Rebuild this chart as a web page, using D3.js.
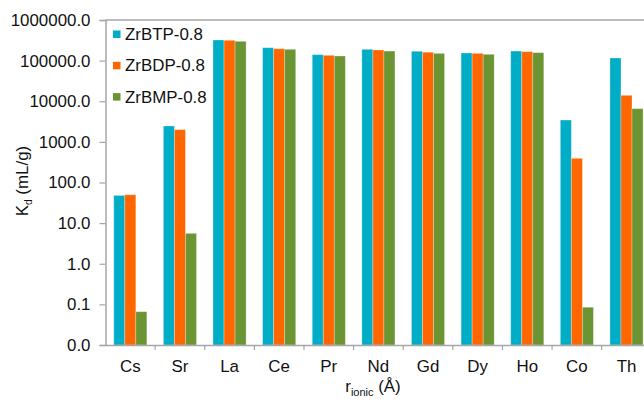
<!DOCTYPE html>
<html>
<head>
<meta charset="utf-8">
<script src="https://cdn.jsdelivr.net/npm/d3@7"></script>
<style>
  body { margin: 0; background: #fff; }
  svg { display: block; font-family: "Liberation Sans", Arial, sans-serif; }
</style>
</head>
<body>
<svg id="chart" width="644" height="402"></svg>
<script>
// Distribution coefficients (mL/g) per ion and sorbent
const ions = ["Cs", "Sr", "La", "Ce", "Pr", "Nd", "Gd", "Dy", "Ho", "Co", "Th"];
const seriesNames = ["ZrBTP-0.8", "ZrBDP-0.8", "ZrBMP-0.8"];
const zrBTP = [48, 2460, 322000, 208000, 140000, 190000, 170000, 154000, 172000, 3450, 116000];
const zrBDP = [50, 2000, 316000, 196000, 135000, 183000, 161000, 151000, 166000, 394, 14000];
const zrBMP = [0.066, 5.6, 299000, 190000, 130000, 172000, 151000, 143000, 157000, 0.085, 6560];
const yTicks = [0.01, 0.1, 1, 10, 100, 1000, 10000, 100000, 1000000];
const colors = ["#00ADC6", "#FF6600", "#6B9432"];

const seriesValues = [zrBTP, zrBDP, zrBMP];
const svg = d3.select("#chart");

const plotLeft = 105.5, plotRight = 651.3, plotTop = 20, plotBottom = 345;
const axisColor = "#A6A6A6";
const textColor = "#111";
const fontSize = 16.9;

const x = d3.scaleBand().domain(ions).range([plotLeft, plotRight])
  .paddingInner(1 / 3).paddingOuter(1 / 6);
const xs = d3.scaleBand().domain(seriesNames).range([0, x.bandwidth()]);
const y = d3.scaleLog().domain([0.01, 1000000]).range([plotBottom, plotTop]);

// Bars, grouped by ion
const rows = ions.map((ion, i) => ({ ion, vals: seriesNames.map((s, k) => ({ s, k, v: seriesValues[k][i] })) }));
svg.append("g").selectAll("g").data(rows).join("g")
  .attr("transform", d => `translate(${x(d.ion)},0)`)
  .selectAll("rect").data(d => d.vals).join("rect")
  .attr("x", d => xs(d.s))
  .attr("width", xs.bandwidth())
  .attr("y", d => y(d.v))
  .attr("height", d => y(0.01) - y(d.v))
  .attr("fill", d => colors[d.k])
  .attr("stroke", "#fff").attr("stroke-opacity", 0.35).attr("stroke-width", 0.8);

// Top gridline
svg.append("line")
  .attr("x1", plotLeft).attr("x2", 644).attr("y1", y(1000000)).attr("y2", y(1000000))
  .attr("stroke", axisColor).attr("stroke-width", 1.5);

// Y axis
const yAxis = svg.append("g").attr("transform", `translate(${plotLeft},0)`)
  .call(d3.axisLeft(y).tickValues(yTicks).tickFormat(d3.format(".1f")).tickSizeOuter(0).tickSize(6).tickPadding(9));
yAxis.select(".domain").attr("stroke", axisColor).attr("stroke-width", 1.5);
yAxis.selectAll(".tick line").attr("stroke", axisColor).attr("stroke-width", 1.2);
yAxis.selectAll("text").attr("font-size", fontSize).attr("fill", textColor)
  .attr("font-family", "Liberation Sans, Arial, sans-serif");

// X axis with ticks between categories
const xAxis = svg.append("g").attr("transform", `translate(0,${plotBottom})`)
  .call(d3.axisBottom(x).tickSize(0).tickPadding(15).tickSizeOuter(0));
xAxis.select(".domain").attr("stroke", axisColor).attr("stroke-width", 1.5);
xAxis.selectAll("text").attr("font-size", fontSize).attr("fill", textColor)
  .attr("font-family", "Liberation Sans, Arial, sans-serif");
const step = x.step();
svg.append("g").selectAll("line").data(ions.slice(1)).join("line")
  .attr("x1", d => x(d) - step / 6).attr("x2", d => x(d) - step / 6)
  .attr("y1", plotBottom).attr("y2", plotBottom + 5)
  .attr("stroke", axisColor).attr("stroke-width", 1.2);

// Axis titles
const xt = svg.append("text").attr("x", 373).attr("y", 392)
  .attr("text-anchor", "middle").attr("font-size", fontSize).attr("fill", textColor);
xt.append("tspan").text("r");
xt.append("tspan").attr("font-size", 11).attr("dy", 4).text("ionic");
xt.append("tspan").attr("dy", -4).text(" (Å)");

const yt = svg.append("text").attr("transform", "translate(28,181) rotate(-90)")
  .attr("text-anchor", "middle").attr("font-size", fontSize).attr("fill", textColor);
yt.append("tspan").text("K");
yt.append("tspan").attr("font-size", 10).attr("dy", 4).text("d");
yt.append("tspan").attr("dy", -4).text(" (mL/g)");

// Legend
const legend = svg.append("g").selectAll("g").data(seriesNames).join("g")
  .attr("transform", (d, i) => `translate(113,${34 + i * 31.3})`);
legend.append("rect").attr("x", 0).attr("y", -3.5).attr("width", 7.5).attr("height", 7.5)
  .attr("fill", (d, i) => colors[i]);
legend.append("text").attr("x", 12).attr("y", 0).attr("dy", "0.36em")
  .attr("font-size", fontSize).attr("fill", textColor).text(d => d);
</script>
</body>
</html>
